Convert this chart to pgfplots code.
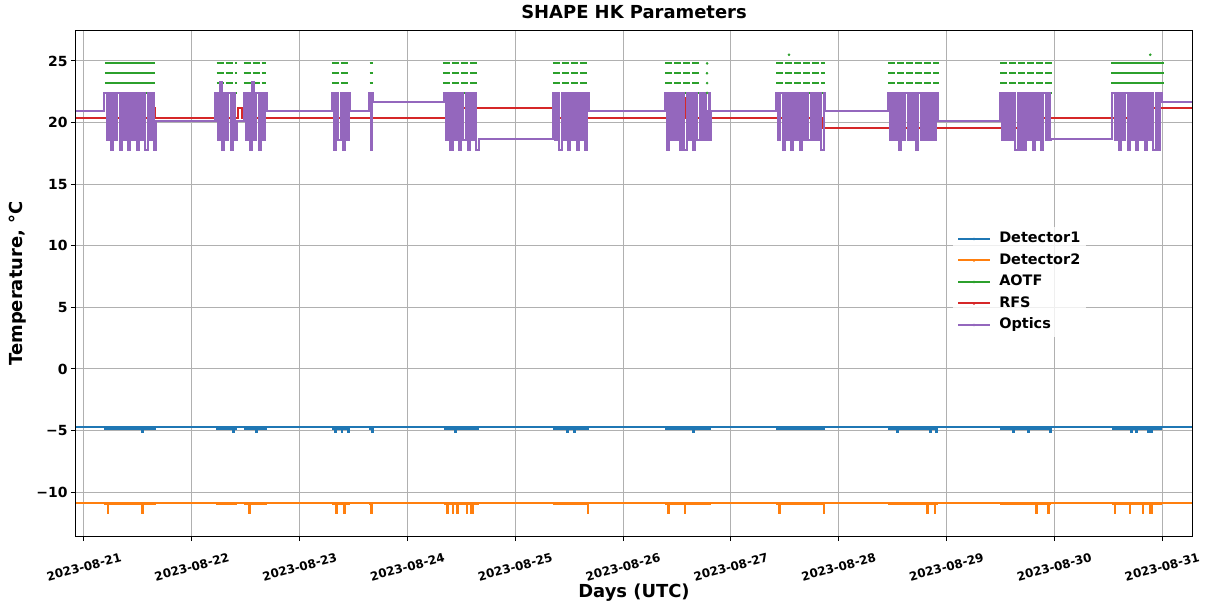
\documentclass[border=0pt]{standalone}
\usepackage{fontspec}
\setmainfont{DejaVu Sans}
\usepackage{pgfplots}
\pgfplotsset{compat=1.18}
\definecolor{c0}{HTML}{1F77B4}
\definecolor{c1}{HTML}{FF7F0E}
\definecolor{c2}{HTML}{2CA02C}
\definecolor{c3}{HTML}{D62728}
\definecolor{c4}{HTML}{9467BD}
\definecolor{gridc}{HTML}{B0B0B0}
\begin{document}
\begin{tikzpicture}
\begin{axis}[
  name=ax,
  scale only axis,
  width=1116bp, height=505bp,
  xmin=20.926, xmax=31.278,
  ymin=-13.56, ymax=27.43,
  xtick={21,22,23,24,25,26,27,28,29,30,31},
  xticklabels={2023-08-21,2023-08-22,2023-08-23,2023-08-24,2023-08-25,2023-08-26,2023-08-27,2023-08-28,2023-08-29,2023-08-30,2023-08-31},
  ytick={-10,-5,0,5,10,15,20,25},
  yticklabels={−10,−5,0,5,10,15,20,25},
  xtick pos=bottom, ytick pos=left,
  tick align=outside,
  major tick length=5bp,
  tick style={black, line width=1bp},
  grid=major,
  grid style={gridc, line width=1bp},
  axis line style={black, line width=1bp},
  xticklabel style={font=\bfseries\fontsize{12}{14}\selectfont, yshift=-26bp, rotate=15, anchor=center},
  yticklabel style={font=\bfseries\fontsize{14}{16}\selectfont},
  title={SHAPE HK Parameters},
  title style={font=\bfseries\fontsize{18}{21}\selectfont, at={(axis description cs:0.5,1.0257)}, anchor=center},
  xlabel={Days (UTC)},
  ylabel={Temperature, °C},
  xlabel style={font=\bfseries\fontsize{18}{21}\selectfont, at={(axis description cs:0.5,-0.1125)}, anchor=center},
  ylabel style={font=\bfseries\fontsize{18}{21}\selectfont, at={(axis description cs:-0.052,0.5)}, anchor=center},
  unbounded coords=jump,
  legend style={at={(0.7857,0.503)}, anchor=west, fill=white, fill opacity=0.8, draw=none, text opacity=1, font=\bfseries\fontsize{14.5}{17}\selectfont, row sep=3bp, inner xsep=4bp, inner ysep=3bp, nodes={inner sep=2bp, text height=11bp, text depth=3.5bp}},
  legend cell align=left,
  legend image code/.code={\draw[#1, line width=2bp] (0bp,0bp) -- (32bp,0bp); \fill[#1] (16bp,0bp) circle (1.1bp); \path (39bp,0bp);},
]
% Detector1
\addplot[c0, line width=2bp, const plot, forget plot] coordinates {
(20.926,-4.75)(21.54,-5.15)(21.548,-4.75)(22.38,-5.15)(22.388,-4.75)(22.60,-5.15)(22.608,-4.75)(23.33,-5.15)(23.338,-4.75)(23.39,-5.15)(23.398,-4.75)(23.45,-5.15)(23.458,-4.75)(23.67,-5.15)(23.678,-4.75)(24.44,-5.15)(24.448,-4.75)(25.48,-5.15)(25.488,-4.75)(25.55,-5.15)(25.558,-4.75)(26.65,-5.15)(26.658,-4.75)(28.54,-5.15)(28.548,-4.75)(28.85,-5.15)(28.858,-4.75)(28.90,-5.15)(28.908,-4.75)(29.62,-5.15)(29.628,-4.75)(29.76,-5.15)(29.768,-4.75)(29.96,-5.15)(29.968,-4.75)(30.71,-5.15)(30.718,-4.75)(30.76,-5.15)(30.768,-4.75)(30.87,-5.15)(30.878,-4.75)(30.90,-5.15)(30.908,-4.75)(31.278,-4.75)};
\addplot[c0, line width=2.6bp, forget plot] coordinates {
(21.19,-4.83)(21.67,-4.83)(21.67,nan)(22.22,-4.83)(22.42,-4.83)(22.42,nan)(22.48,-4.83)(22.70,-4.83)(22.70,nan)(23.30,-4.83)(23.47,-4.83)(23.47,nan)(23.64,-4.83)(23.68,-4.83)(23.68,nan)(24.34,-4.83)(24.66,-4.83)(24.66,nan)(25.35,-4.83)(25.68,-4.83)(25.68,nan)(26.39,-4.83)(26.82,-4.83)(26.82,nan)(27.42,-4.83)(27.87,-4.83)(27.87,nan)(28.46,-4.83)(28.92,-4.83)(28.92,nan)(29.50,-4.83)(29.97,-4.83)(29.97,nan)(30.54,-4.83)(31.00,-4.83)};
% Detector2
\addplot[c1, line width=1.8bp, const plot, forget plot] coordinates {
(20.926,-10.9)(21.22,-11.7)(21.228,-10.9)(21.54,-11.7)(21.548,-10.9)(22.53,-11.7)(22.538,-10.9)(23.34,-11.7)(23.348,-10.9)(23.41,-11.7)(23.425,-10.9)(23.66,-11.7)(23.668,-10.9)(24.37,-11.7)(24.378,-10.9)(24.42,-11.7)(24.428,-10.9)(24.46,-11.7)(24.468,-10.9)(24.55,-11.7)(24.558,-10.9)(24.59,-11.7)(24.61,-10.9)(25.67,-11.7)(25.678,-10.9)(26.42,-11.7)(26.428,-10.9)(26.57,-11.7)(26.578,-10.9)(27.45,-11.7)(27.458,-10.9)(27.86,-11.7)(27.868,-10.9)(28.82,-11.7)(28.828,-10.9)(28.89,-11.7)(28.898,-10.9)(29.83,-11.7)(29.838,-10.9)(29.94,-11.7)(29.948,-10.9)(30.56,-11.7)(30.568,-10.9)(30.70,-11.7)(30.708,-10.9)(30.82,-11.7)(30.828,-10.9)(30.89,-11.7)(30.91,-10.9)(31.278,-10.9)};
\addplot[c1, line width=2.6bp, forget plot] coordinates {
(21.19,-10.95)(21.67,-10.95)(21.67,nan)(22.22,-10.95)(22.42,-10.95)(22.42,nan)(22.48,-10.95)(22.70,-10.95)(22.70,nan)(23.30,-10.95)(23.47,-10.95)(23.47,nan)(23.64,-10.95)(23.68,-10.95)(23.68,nan)(24.34,-10.95)(24.66,-10.95)(24.66,nan)(25.35,-10.95)(25.68,-10.95)(25.68,nan)(26.39,-10.95)(26.82,-10.95)(26.82,nan)(27.42,-10.95)(27.87,-10.95)(27.87,nan)(28.46,-10.95)(28.92,-10.95)(28.92,nan)(29.50,-10.95)(29.97,-10.95)(29.97,nan)(30.54,-10.95)(31.00,-10.95)};
% AOTF solid parts
\addplot[c2, line width=2bp, forget plot] coordinates {
(21.195,24.8)(21.66,24.8)(21.66,nan)(21.195,24.0)(21.66,24.0)(21.66,nan)(21.195,23.2)(21.66,23.2)(21.66,nan)
(30.53,24.8)(31.02,24.8)(31.02,nan)(30.53,24.0)(31.02,24.0)(31.02,nan)(30.53,23.2)(31.02,23.2)};
% AOTF dashed parts
\addplot[c2, line width=2bp, dash pattern=on 7bp off 2bp, forget plot] coordinates {
(22.23,24.8)(22.42,24.8)(22.42,nan)(22.48,24.8)(22.69,24.8)(22.69,nan)(23.30,24.8)(23.46,24.8)(23.46,nan)(23.65,24.8)(23.68,24.8)(23.68,nan)(24.33,24.8)(24.66,24.8)(24.66,nan)(25.35,24.8)(25.68,24.8)(25.68,nan)(26.39,24.8)(26.71,24.8)(26.71,nan)(27.42,24.8)(27.87,24.8)(27.87,nan)(28.46,24.8)(28.93,24.8)(28.93,nan)(29.50,24.8)(29.98,24.8)(29.98,nan)
(22.23,24.0)(22.42,24.0)(22.42,nan)(22.48,24.0)(22.69,24.0)(22.69,nan)(23.30,24.0)(23.46,24.0)(23.46,nan)(23.65,24.0)(23.68,24.0)(23.68,nan)(24.33,24.0)(24.66,24.0)(24.66,nan)(25.35,24.0)(25.68,24.0)(25.68,nan)(26.39,24.0)(26.71,24.0)(26.71,nan)(27.42,24.0)(27.87,24.0)(27.87,nan)(28.46,24.0)(28.93,24.0)(28.93,nan)(29.50,24.0)(29.98,24.0)(29.98,nan)
(22.23,23.2)(22.42,23.2)(22.42,nan)(22.48,23.2)(22.69,23.2)(22.69,nan)(23.30,23.2)(23.46,23.2)(23.46,nan)(23.65,23.2)(23.68,23.2)(23.68,nan)(24.33,23.2)(24.66,23.2)(24.66,nan)(25.35,23.2)(25.68,23.2)(25.68,nan)(26.39,23.2)(26.71,23.2)(26.71,nan)(27.42,23.2)(27.87,23.2)(27.87,nan)(28.46,23.2)(28.93,23.2)(28.93,nan)(29.50,23.2)(29.98,23.2)(29.98,nan)
(21.195,22.4)(21.66,22.4)(21.66,nan)(22.23,22.4)(22.42,22.4)(22.42,nan)(22.48,22.4)(22.69,22.4)(22.69,nan)(23.30,22.4)(23.46,22.4)(23.46,nan)(23.65,22.4)(23.68,22.4)(23.68,nan)(24.33,22.4)(24.66,22.4)(24.66,nan)(25.35,22.4)(25.68,22.4)(25.68,nan)(26.39,22.4)(26.71,22.4)(26.71,nan)(27.42,22.4)(27.87,22.4)(27.87,nan)(28.46,22.4)(28.93,22.4)(28.93,nan)(29.50,22.4)(29.98,22.4)(29.98,nan)(30.53,22.4)(31.02,22.4)};
\addplot[c2, only marks, mark=*, mark size=1.1bp, forget plot] coordinates {
(27.54,25.5)(30.89,25.5)(26.78,24.8)(26.78,24.0)(26.78,23.2)(26.78,22.4)};
% RFS
\addplot[c3, line width=2bp, const plot, forget plot] coordinates {
(20.926,20.35)(21.38,22.0)(21.40,20.35)(21.64,21.16)(21.66,20.35)(22.43,21.16)(22.47,20.35)(24.40,21.16)(25.40,20.35)(26.54,22.0)(26.58,20.35)(26.74,19.53)(26.76,20.35)(27.50,21.16)(27.55,20.35)(27.85,19.53)(29.82,20.35)(30.70,21.16)(31.278,21.16)};
% Optics
\addplot[c4, line width=2.05bp, const plot, forget plot] coordinates {
(20.926,20.94)
(21.19,22.4)(21.21,18.6)(21.23,22.4)(21.25,17.8)(21.27,22.4)(21.29,18.6)(21.31,22.4)(21.33,17.8)(21.35,22.4)(21.37,18.6)(21.39,22.4)(21.41,17.8)(21.43,22.4)(21.45,18.6)(21.47,22.4)(21.49,17.8)(21.51,22.4)(21.53,18.6)(21.55,22.4)(21.57,17.8)(21.59,22.4)(21.61,18.6)(21.63,22.4)(21.65,17.8)
(21.67,20.15)
(22.22,22.4)(22.24,18.6)(22.26,23.3)(22.28,17.8)(22.30,22.4)(22.32,18.6)(22.34,22.4)(22.36,17.8)(22.38,22.4)(22.40,18.6)
(22.42,20.15)
(22.48,22.4)(22.50,18.6)(22.52,22.4)(22.54,17.8)(22.56,23.3)(22.58,18.6)(22.60,22.4)(22.62,17.8)(22.64,22.4)(22.66,18.6)(22.68,22.4)
(22.70,20.94)
(23.30,22.4)(23.32,17.8)(23.34,22.4)(23.36,18.6)(23.38,22.4)(23.40,17.8)(23.42,22.4)(23.44,18.6)(23.46,22.4)
(23.47,20.94)
(23.64,22.4)(23.66,17.8)(23.67,22.4)
(23.68,21.7)
(24.34,22.4)(24.36,18.6)(24.38,22.4)(24.40,17.8)(24.42,22.4)(24.44,18.6)(24.46,22.4)(24.48,17.8)(24.50,22.4)(24.52,18.6)(24.54,22.4)(24.56,17.8)(24.58,22.4)(24.60,18.6)(24.62,22.4)(24.64,17.8)
(24.66,18.65)
(25.35,22.4)(25.37,18.6)(25.39,22.4)(25.41,17.8)(25.43,22.4)(25.45,18.6)(25.47,22.4)(25.49,17.8)(25.51,22.4)(25.53,18.6)(25.55,22.4)(25.57,17.8)(25.59,22.4)(25.61,18.6)(25.63,22.4)(25.65,17.8)(25.67,22.4)
(25.68,20.94)
(26.39,22.4)(26.41,17.8)(26.43,22.4)(26.45,18.6)(26.47,22.4)(26.49,18.6)(26.51,22.4)(26.53,17.8)(26.55,22.4)(26.57,17.8)(26.59,22.4)(26.61,18.6)(26.63,22.4)(26.65,17.8)(26.67,22.4)(26.69,18.6)(26.71,22.4)(26.73,18.6)(26.75,22.4)(26.77,18.6)
(26.79,20.94)(26.80,22.4)(26.81,18.6)
(26.82,20.94)
(27.42,22.4)(27.44,18.6)(27.46,22.4)(27.48,17.8)(27.50,22.4)(27.52,18.6)(27.54,22.4)(27.56,17.8)(27.58,22.4)(27.60,18.6)(27.62,22.4)(27.64,17.8)(27.66,22.4)(27.68,18.6)(27.70,22.4)(27.72,18.6)(27.74,22.4)(27.76,18.6)(27.78,22.4)(27.80,18.6)(27.82,22.4)(27.84,17.8)(27.86,22.4)
(27.87,20.94)
(28.46,22.4)(28.48,18.6)(28.50,22.4)(28.52,18.6)(28.54,22.4)(28.56,17.8)(28.58,22.4)(28.60,18.6)(28.62,22.4)(28.64,18.6)(28.66,22.4)(28.68,18.6)(28.70,22.4)(28.72,17.8)(28.74,22.4)(28.76,18.6)(28.78,22.4)(28.80,18.6)(28.82,22.4)(28.84,18.6)(28.86,22.4)(28.88,18.6)(28.90,22.4)
(28.92,20.15)
(29.50,22.4)(29.52,18.6)(29.54,22.4)(29.56,18.6)(29.58,22.4)(29.60,18.6)(29.62,22.4)(29.64,17.8)(29.66,22.4)(29.68,17.8)(29.70,22.4)(29.72,17.8)(29.74,22.4)(29.76,18.6)(29.78,22.4)(29.80,17.8)(29.82,22.4)(29.84,18.6)(29.86,22.4)(29.88,17.8)(29.90,22.4)(29.92,18.6)(29.94,22.4)(29.96,18.6)
(29.97,18.65)
(30.54,22.4)(30.56,18.6)(30.58,22.4)(30.60,17.8)(30.62,22.4)(30.64,18.6)(30.66,22.4)(30.68,17.8)(30.70,22.4)(30.72,18.6)(30.74,22.4)(30.76,17.8)(30.78,22.4)(30.80,18.6)(30.82,22.4)(30.84,17.8)(30.86,22.4)(30.88,18.6)(30.90,22.4)(30.92,17.8)(30.94,22.4)(30.96,17.8)(30.98,22.4)
(31.00,21.7)(31.278,21.7)};
\addlegendimage{c0}\addlegendentry{Detector1}
\addlegendimage{c1}\addlegendentry{Detector2}
\addlegendimage{c2}\addlegendentry{AOTF}
\addlegendimage{c3}\addlegendentry{RFS}
\addlegendimage{c4}\addlegendentry{Optics}
\end{axis}
\pgfresetboundingbox
\path[use as bounding box] ([shift={(-76bp,-65bp)}]ax.south west) rectangle ([shift={(13bp,31bp)}]ax.north east);
\end{tikzpicture}
\end{document}
